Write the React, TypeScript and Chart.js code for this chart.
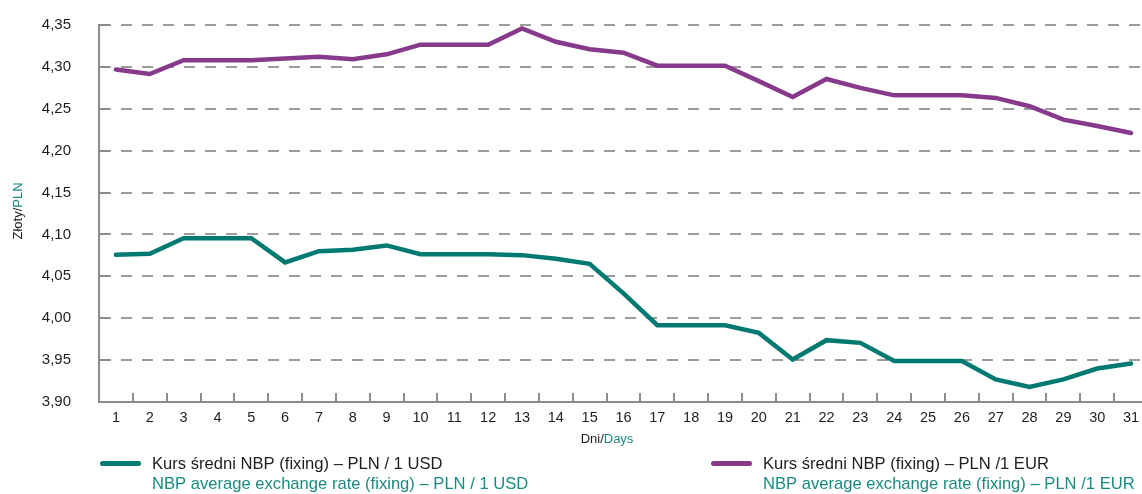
import React, { useEffect, useRef } from 'react';
import { Chart, registerables } from 'chart.js';

Chart.register(...registerables);

const days = ['1', '2', '3', '4', '5', '6', '7', '8', '9', '10', '11', '12', '13', '14', '15', '16', '17', '18', '19', '20', '21', '22', '23', '24', '25', '26', '27', '28', '29', '30', '31'];

const usdRates = [4.0757, 4.077, 4.0956, 4.0956, 4.0956, 4.0666, 4.08, 4.0817, 4.0869, 4.0765, 4.0765, 4.0765, 4.0753, 4.071, 4.065, 4.0296, 3.9916, 3.9916, 3.9916, 3.9825, 3.9507, 3.9738, 3.9706, 3.949, 3.949, 3.949, 3.927, 3.918, 3.927, 3.94, 3.946];

const eurRates = [4.297, 4.2915, 4.308, 4.308, 4.308, 4.31, 4.312, 4.309, 4.315, 4.3265, 4.3265, 4.3265, 4.346, 4.33, 4.321, 4.317, 4.3015, 4.3015, 4.3015, 4.283, 4.264, 4.2856, 4.275, 4.266, 4.266, 4.266, 4.263, 4.253, 4.237, 4.2295, 4.221];

const yMin = 3.9;
const yMax = 4.35;
const yStep = 0.05;

const usdLegend = ['Kurs średni NBP (fixing) – PLN / 1 USD', 'NBP average exchange rate (fixing) – PLN / 1 USD'];
const eurLegend = ['Kurs średni NBP (fixing) – PLN /1 EUR', 'NBP average exchange rate (fixing) – PLN /1 EUR'];
const yTitle = ['Złoty/', 'PLN'];
const xTitle = ['Dni/', 'Days'];

const FONT = '"Liberation Sans", Arial, sans-serif';
const TEAL = '#007a70';
const PURPLE = '#87398c';
const TEAL_TEXT = '#1a8a80';
const DARK = '#1e1e1e';
const AXIS = '#8c8c8c';
const GRID = '#9c9c9c';

function drawTwoTone(ctx: CanvasRenderingContext2D, parts: string[], x: number, y: number) {
  ctx.fillStyle = DARK;
  ctx.fillText(parts[0], x, y);
  const w = ctx.measureText(parts[0]).width;
  ctx.fillStyle = TEAL_TEXT;
  ctx.fillText(parts[1], x + w, y);
}

function legendItem(ctx: CanvasRenderingContext2D, x0: number, color: string, lines: string[]) {
  ctx.save();
  ctx.strokeStyle = color;
  ctx.lineWidth = 5;
  ctx.lineCap = 'round';
  ctx.beginPath();
  ctx.moveTo(x0 + 2.5, 463.5);
  ctx.lineTo(x0 + 38.5, 463.5);
  ctx.stroke();
  ctx.font = `16.6px ${FONT}`;
  ctx.textAlign = 'left';
  ctx.textBaseline = 'alphabetic';
  ctx.fillStyle = DARK;
  ctx.fillText(lines[0], x0 + 52, 469);
  ctx.fillStyle = TEAL_TEXT;
  ctx.fillText(lines[1], x0 + 52, 488.5);
  ctx.restore();
}

const decor = {
  id: 'decor',
  beforeDatasetsDraw(chart: any) {
    const { ctx, chartArea, scales } = chart;
    const { left, bottom } = chartArea;
    const x = scales.x;
    const y = scales.y;
    ctx.save();
    ctx.strokeStyle = AXIS;
    ctx.lineWidth = 2;
    ctx.beginPath();
    y.ticks.forEach((_t: any, i: number) => {
      const py = Math.round(y.getPixelForTick(i));
      ctx.moveTo(left, py);
      ctx.lineTo(left + 10, py);
    });
    const step = x.getPixelForValue(1) - x.getPixelForValue(0);
    for (let i = 0; i <= days.length; i++) {
      const px = Math.round(x.getPixelForValue(0) - step / 2 + i * step);
      ctx.moveTo(px, bottom);
      ctx.lineTo(px, bottom - 9);
    }
    ctx.stroke();
    ctx.restore();
  },
  afterDraw(chart: any) {
    const { ctx } = chart;
    ctx.save();
    ctx.font = `13px ${FONT}`;
    ctx.textBaseline = 'middle';
    ctx.textAlign = 'left';
    const yw = ctx.measureText(yTitle.join('')).width;
    ctx.translate(18, 211);
    ctx.rotate(-Math.PI / 2);
    drawTwoTone(ctx, yTitle, -yw / 2, 0);
    ctx.restore();

    ctx.save();
    ctx.font = `13px ${FONT}`;
    ctx.textBaseline = 'alphabetic';
    ctx.textAlign = 'left';
    const xw = ctx.measureText(xTitle.join('')).width;
    drawTwoTone(ctx, xTitle, 607 - xw / 2, 443);
    ctx.restore();

    legendItem(ctx, 100, TEAL, usdLegend);
    legendItem(ctx, 711, PURPLE, eurLegend);
  },
};

export default function App() {
  const ref = useRef<HTMLCanvasElement>(null);

  useEffect(() => {
    const canvas = ref.current;
    if (!canvas) return;
    const chart = new Chart(canvas, {
      type: 'line',
      data: {
        labels: days,
        datasets: [
          {
            label: usdLegend[0],
            data: usdRates,
            borderColor: TEAL,
            backgroundColor: TEAL,
            borderWidth: 4.5,
            pointRadius: 0,
            tension: 0,
            borderCapStyle: 'round',
            borderJoinStyle: 'miter',
          },
          {
            label: eurLegend[0],
            data: eurRates,
            borderColor: PURPLE,
            backgroundColor: PURPLE,
            borderWidth: 4.5,
            pointRadius: 0,
            tension: 0,
            borderCapStyle: 'round',
            borderJoinStyle: 'miter',
          },
        ],
      },
      options: {
        animation: false,
        responsive: false,
        devicePixelRatio: 1,
        layout: { padding: { top: 25, right: 4, left: 0, bottom: 0 } },
        plugins: {
          legend: { display: false },
          tooltip: { enabled: false },
          title: { display: false },
        },
        scales: {
          x: {
            type: 'category',
            offset: true,
            grid: { display: false, drawTicks: false },
            border: { display: true, color: AXIS, width: 2 },
            ticks: {
              font: { family: FONT, size: 14.5 },
              color: DARK,
              padding: 7,
              maxRotation: 0,
              autoSkip: false,
            },
            afterFit: (s: any) => {
              s.height = 92;
            },
          },
          y: {
            min: yMin,
            max: yMax,
            grid: { color: GRID, lineWidth: 2, drawTicks: false },
            border: { display: true, color: AXIS, width: 2, dash: [11, 10] },
            ticks: {
              stepSize: yStep,
              font: { family: FONT, size: 15 },
              color: DARK,
              padding: 28,
              callback: (v: any) => Number(v).toFixed(2).replace('.', ','),
            },
            afterFit: (s: any) => {
              s.width = 99;
              s.paddingTop = 0;
              s.paddingBottom = 0;
            },
          },
        },
      },
      plugins: [decor],
    } as any);
    return () => chart.destroy();
  }, []);

  return (
    <div style={{ position: 'fixed', left: 0, top: 0, width: 1142, height: 494, overflow: 'hidden', background: '#fff' }}>
      <canvas ref={ref} width={1152} height={494} style={{ width: 1152, height: 494, display: 'block' }} />
    </div>
  );
}
